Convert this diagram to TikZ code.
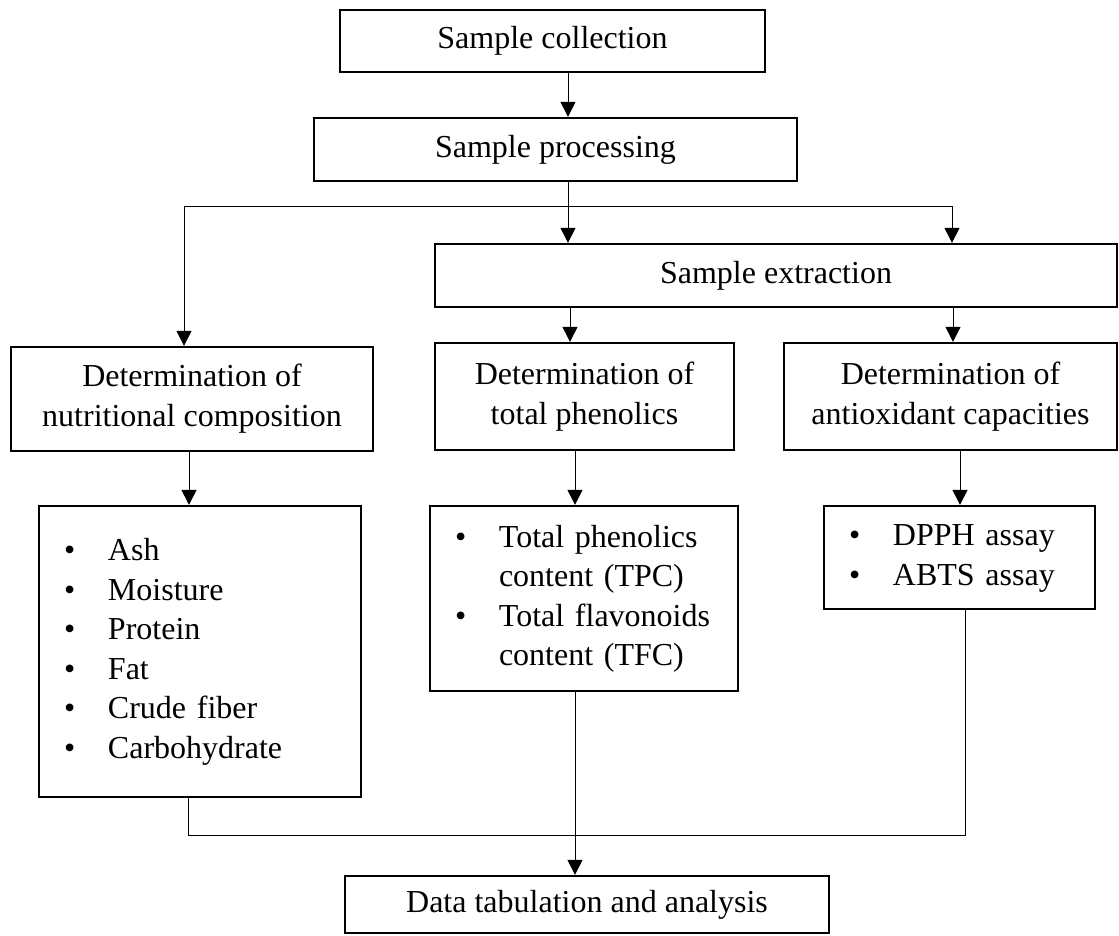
\documentclass[tikz,border=0pt]{standalone}
\usepackage{fontspec}
\setmainfont{Liberation Serif}
\usetikzlibrary{arrows.meta}
\newcommand\bl{\textbullet}
\newenvironment{blist}{\begin{tabular}{@{}p{44pt}@{}l@{}}}{\end{tabular}}
\begin{document}
\begin{tikzpicture}[x=1pt,y=-1pt,
  box/.style={draw,line width=2.3pt,inner sep=0pt,align=center,font=\fontsize{32}{40}\selectfont},
  lst/.style={draw,line width=2.3pt,inner xsep=25pt,inner ysep=0pt,align=left,font=\fontsize{32}{39.6}\selectfont},
  conn/.style={line width=1pt},
  arr/.style={conn,-{Triangle[length=15pt,width=15pt]}}]
\useasboundingbox (0,0) rectangle (1119,935);
\node[box,minimum width=425pt,minimum height=62pt] (col) at (552.5,41) {Sample collection};
\node[box,minimum width=483pt,minimum height=63pt] (proc) at (555.5,149.5) {Sample processing};
\node[box,minimum width=682pt,minimum height=63pt] (ext) at (776,275.5) {Sample extraction};
\node[box,minimum width=362pt,minimum height=104pt] (nut) at (192,399) {Determination of\\nutritional composition};
\node[box,minimum width=299pt,minimum height=107pt] (phen) at (584.5,396.5) {Determination of\\total phenolics};
\node[box,minimum width=333pt,minimum height=107pt] (anti) at (950.5,396.5) {Determination of\\antioxidant capacities};
\node[lst,text width=272pt,minimum height=291pt] (ash) at (200,651.5) {\begin{blist}\bl & Ash\\\bl & Moisture\\\bl & Protein\\\bl & Fat\\\bl & Crude fiber\\\bl & Carbohydrate\end{blist}};
\node[lst,text width=258pt,minimum height=185pt] (tpc) at (584,598.5) {\begin{blist}\bl & Total phenolics\\ & content (TPC)\\\bl & Total flavonoids\\ & content (TFC)\end{blist}};
\node[lst,text width=221pt,minimum height=103pt] (dpph) at (959.5,557.5) {\begin{blist}\bl & DPPH assay\\\bl & ABTS assay\end{blist}};
\node[box,minimum width=484pt,minimum height=57pt] (data) at (587,904.5) {Data tabulation and analysis};
\coordinate (xm) at (568,206);
\coordinate (xl) at (184,206);
\coordinate (xr) at (952,206);
\coordinate (xp) at (570,0);
\coordinate (xa) at (953,0);
\coordinate (xn) at (189,0);
\coordinate (xq) at (575,0);
\coordinate (xd) at (960,0);
\coordinate (jl) at (188,835);
\coordinate (jr) at (965,835);
\draw[arr] (col.south -| xm) -- (proc.north -| xm);
\draw[conn] (proc.south -| xm) -- (xm);
\draw[conn] (xl) -- (xr);
\draw[arr] (xl) -- (xl |- nut.north);
\draw[arr] (xm) -- (ext.north -| xm);
\draw[arr] (xr) -- (ext.north -| xr);
\draw[arr] (ext.south -| xp) -- (phen.north -| xp);
\draw[arr] (ext.south -| xa) -- (anti.north -| xa);
\draw[arr] (nut.south -| xn) -- (ash.north -| xn);
\draw[arr] (phen.south -| xq) -- (tpc.north -| xq);
\draw[arr] (anti.south -| xd) -- (dpph.north -| xd);
\draw[conn] (ash.south -| jl) -- (jl) -- (jr) -- (dpph.south -| jr);
\draw[arr] (tpc.south -| xq) -- (data.north -| xq);
\end{tikzpicture}
\end{document}
